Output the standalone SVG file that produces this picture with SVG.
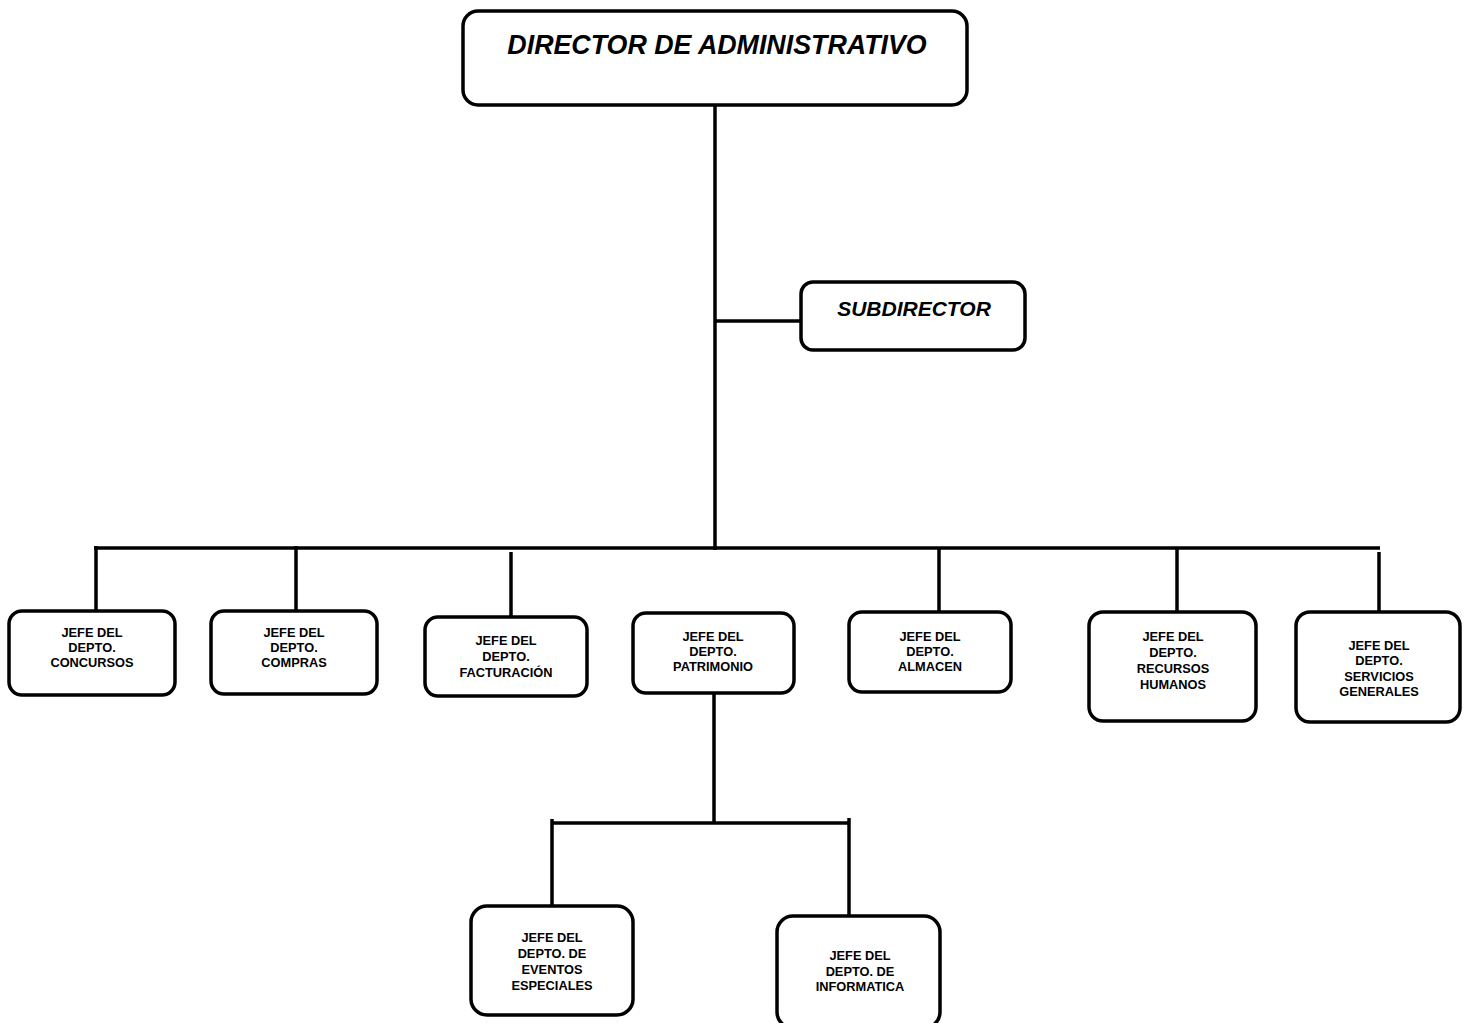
<svg xmlns="http://www.w3.org/2000/svg" width="1467" height="1023" viewBox="0 0 1467 1023">
<style>
.box{fill:#fff;stroke:#000;stroke-width:3.5}
.ln{stroke:#000;stroke-width:3.5;fill:none}
.t{font-family:"Liberation Sans",Arial,sans-serif;font-weight:bold;font-size:12.8px;text-anchor:middle;fill:#000}
.big{font-family:"Liberation Sans",Arial,sans-serif;font-weight:bold;font-style:italic;text-anchor:middle;fill:#000}
</style>
<rect width="1467" height="1023" fill="#fff"/>
<g id="connectors">
<line class="ln" x1="715" y1="106" x2="715" y2="550"/>
<line class="ln" x1="715" y1="321" x2="802" y2="321"/>
<line class="ln" x1="94" y1="548" x2="1380" y2="548"/>
<line class="ln" x1="96" y1="546" x2="96" y2="611"/>
<line class="ln" x1="296" y1="546" x2="296" y2="611"/>
<line class="ln" x1="511" y1="552" x2="511" y2="617"/>
<line class="ln" x1="939" y1="548" x2="939" y2="612"/>
<line class="ln" x1="1177" y1="548" x2="1177" y2="612"/>
<line class="ln" x1="1379" y1="552" x2="1379" y2="618"/>
<line class="ln" x1="714" y1="693" x2="714" y2="823"/>
<line class="ln" x1="552" y1="823" x2="849" y2="823"/>
<line class="ln" x1="552" y1="819" x2="552" y2="906"/>
<line class="ln" x1="849" y1="818" x2="849" y2="915"/>
</g>
<g id="director">
<rect class="box" x="463" y="11" width="504" height="94" rx="15"/>
<text class="big" x="717" y="54" font-size="26.8">DIRECTOR DE ADMINISTRATIVO</text>
</g>
<g id="subdirector">
<rect class="box" x="801" y="282" width="224" height="68" rx="12"/>
<text class="big" x="914" y="316" font-size="21">SUBDIRECTOR</text>
</g>
<g id="concursos">
<rect class="box" x="9" y="611" width="166" height="84" rx="13"/>
<text class="t" x="92" y="637">JEFE DEL</text>
<text class="t" x="92" y="652">DEPTO.</text>
<text class="t" x="92" y="667">CONCURSOS</text>
</g>
<g id="compras">
<rect class="box" x="211" y="611" width="166" height="83" rx="13"/>
<text class="t" x="294" y="637">JEFE DEL</text>
<text class="t" x="294" y="652">DEPTO.</text>
<text class="t" x="294" y="667">COMPRAS</text>
</g>
<g id="facturacion">
<rect class="box" x="425" y="617" width="162" height="79" rx="13"/>
<text class="t" x="506" y="645">JEFE DEL</text>
<text class="t" x="506" y="661">DEPTO.</text>
<text class="t" x="506" y="677">FACTURACIÓN</text>
</g>
<g id="patrimonio">
<rect class="box" x="633" y="613" width="161" height="80" rx="13"/>
<text class="t" x="713" y="641">JEFE DEL</text>
<text class="t" x="713" y="656">DEPTO.</text>
<text class="t" x="713" y="671">PATRIMONIO</text>
</g>
<g id="almacen">
<rect class="box" x="849" y="612" width="162" height="80" rx="13"/>
<text class="t" x="930" y="641">JEFE DEL</text>
<text class="t" x="930" y="656">DEPTO.</text>
<text class="t" x="930" y="671">ALMACEN</text>
</g>
<g id="recursos-humanos">
<rect class="box" x="1089" y="612" width="167" height="109" rx="14"/>
<text class="t" x="1173" y="641">JEFE DEL</text>
<text class="t" x="1173" y="657">DEPTO.</text>
<text class="t" x="1173" y="673">RECURSOS</text>
<text class="t" x="1173" y="689">HUMANOS</text>
</g>
<g id="servicios-generales">
<rect class="box" x="1296" y="612" width="164" height="110" rx="14"/>
<text class="t" x="1379" y="650">JEFE DEL</text>
<text class="t" x="1379" y="665">DEPTO.</text>
<text class="t" x="1379" y="681">SERVICIOS</text>
<text class="t" x="1379" y="696">GENERALES</text>
</g>
<g id="eventos-especiales">
<rect class="box" x="471" y="906" width="162" height="109" rx="16"/>
<text class="t" x="552" y="942">JEFE DEL</text>
<text class="t" x="552" y="958">DEPTO. DE</text>
<text class="t" x="552" y="974">EVENTOS</text>
<text class="t" x="552" y="990">ESPECIALES</text>
</g>
<g id="informatica">
<rect class="box" x="777" y="916" width="163" height="112" rx="16"/>
<text class="t" x="860" y="960">JEFE DEL</text>
<text class="t" x="860" y="976">DEPTO. DE</text>
<text class="t" x="860" y="991">INFORMATICA</text>
</g>
</svg>
